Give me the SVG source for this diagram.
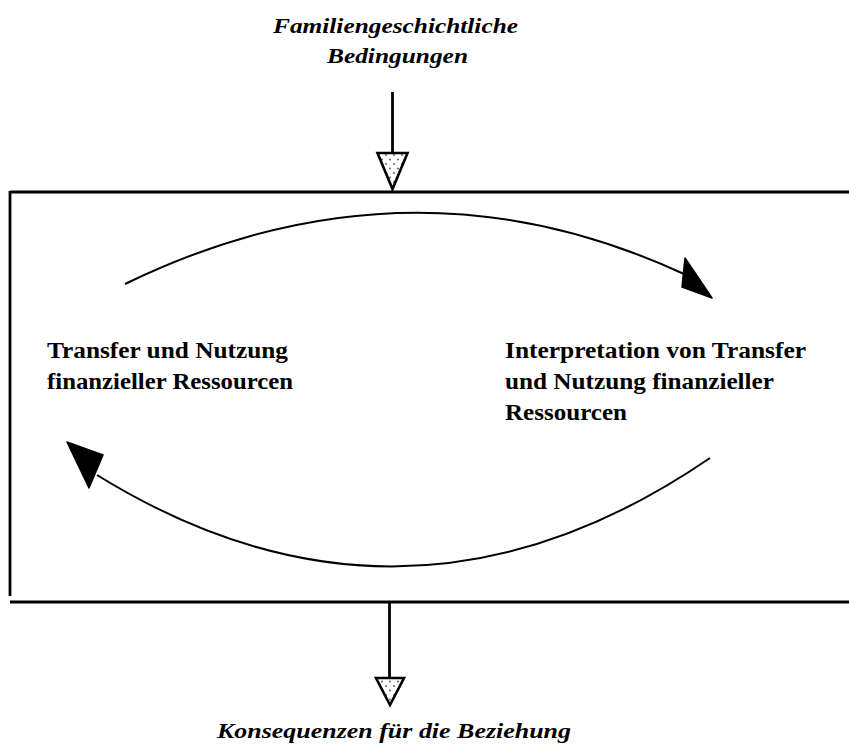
<svg xmlns="http://www.w3.org/2000/svg" width="849" height="747" viewBox="0 0 849 747">
<style>
.lbl{font-family:"Liberation Serif","Times New Roman",serif;font-weight:bold;font-size:23px;fill:#000}
.ital{font-family:"Liberation Serif","Times New Roman",serif;font-weight:bold;font-style:italic;font-size:22px;fill:#000}
.ln{stroke:#000;stroke-width:2.8;fill:none}
.arc{stroke:#000;stroke-width:2;fill:none}
.open{fill:url(#stip);stroke:#000;stroke-width:2.6;stroke-linejoin:miter}
.solid{fill:#000;stroke:#000;stroke-width:1.5;stroke-linejoin:round}
</style>
<defs>
<pattern id="stip" width="8" height="9" patternUnits="userSpaceOnUse">
<rect width="8" height="9" fill="#fff"/>
<circle cx="2" cy="2" r="0.9" fill="#555"/>
<circle cx="6" cy="6.5" r="0.9" fill="#555"/>
</pattern>
</defs>
<rect width="849" height="747" fill="#fff"/>

<g id="familiengeschichtliche-bedingungen">
<text class="ital" x="273" y="33" textLength="245" lengthAdjust="spacingAndGlyphs">Familiengeschichtliche</text>
<text class="ital" x="327" y="63" textLength="141" lengthAdjust="spacingAndGlyphs">Bedingungen</text>
</g>

<g id="rahmen">
<line class="ln" x1="10" y1="192" x2="849" y2="192"/>
<line class="ln" x1="10" y1="191" x2="10" y2="596"/>
<line class="ln" x1="10" y1="602" x2="849" y2="602"/>
</g>

<g id="transfer-nutzung">
<text class="lbl" x="47" y="358" textLength="241" lengthAdjust="spacingAndGlyphs">Transfer und Nutzung</text>
<text class="lbl" x="47" y="389" textLength="246" lengthAdjust="spacingAndGlyphs">finanzieller Ressourcen</text>
</g>

<g id="interpretation">
<text class="lbl" x="505" y="358" textLength="301" lengthAdjust="spacingAndGlyphs">Interpretation von Transfer</text>
<text class="lbl" x="505" y="389" textLength="269" lengthAdjust="spacingAndGlyphs">und Nutzung finanzieller</text>
<text class="lbl" x="505" y="420" textLength="122" lengthAdjust="spacingAndGlyphs">Ressourcen</text>
</g>

<g id="konsequenzen">
<text class="ital" x="217" y="738" textLength="354" lengthAdjust="spacingAndGlyphs">Konsequenzen für die Beziehung</text>
</g>

<g id="connectors">
<line class="ln" x1="392.5" y1="92" x2="392.5" y2="153"/>
<polygon class="open" points="377.5,153 407.5,153 392.5,189"/>
<line class="ln" x1="389.5" y1="602" x2="389.5" y2="678"/>
<polygon class="open" points="376,678 404,678 390,705"/>
<path class="arc" d="M125,284 Q408,146.5 684,274"/>
<polygon class="solid" points="685,258 682,287 712,298"/>
<path class="arc" d="M710,458 Q406,666 97,475"/>
<polygon class="solid" points="67,442 103,455 89,488"/>
</g>
</svg>
